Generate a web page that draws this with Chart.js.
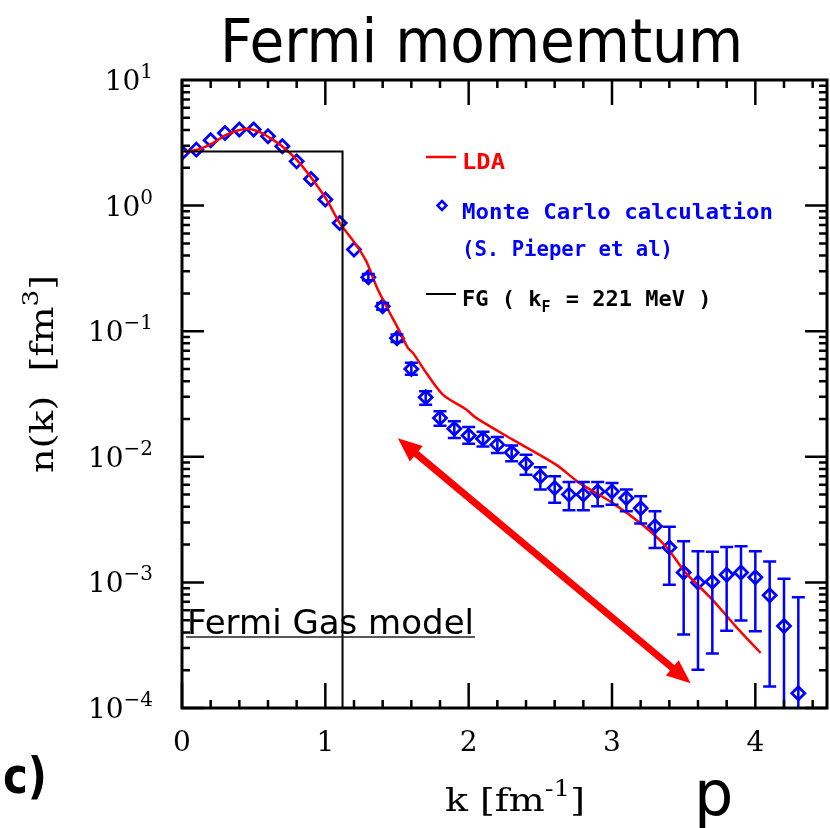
<!DOCTYPE html>
<html>
<head>
<meta charset="utf-8">
<script src="https://cdn.jsdelivr.net/npm/chart.js@4.4.1/dist/chart.umd.min.js"></script>
<style>
  body { margin: 0; background: #fff; }
</style>
</head>
<body>
<canvas id="fermiChart" width="830" height="828"></canvas>
<script>
// Monte Carlo points (k in fm^-1, n(k) in fm^3) with error bar ends
const mcK = [0, 0.1, 0.2, 0.3, 0.4, 0.5, 0.6, 0.7, 0.8, 0.9, 1.0, 1.1, 1.2, 1.3, 1.4, 1.5,
             1.6, 1.7, 1.8, 1.9, 2.0, 2.1, 2.2, 2.3, 2.4, 2.5, 2.6, 2.7, 2.8, 2.9, 3.0,
             3.1, 3.2, 3.3, 3.4, 3.5, 3.6, 3.7, 3.8, 3.9, 4.0, 4.1, 4.2, 4.3];
const mcN = [2.63, 2.79, 3.31, 3.79, 4.03, 4.03, 3.56, 2.97, 2.25, 1.63, 1.12, 0.728, 0.447, 0.269, 0.158, 0.088,
             0.050, 0.0298, 0.0204, 0.0167, 0.0148, 0.0139, 0.0125, 0.0108, 0.0088, 0.00698, 0.00564, 0.0050, 0.0050, 0.0053, 0.0053,
             0.0047, 0.0039, 0.0028, 0.0019, 0.0012, 0.0010, 0.00101, 0.00115, 0.00120, 0.00110, 0.00079, 0.00045, 0.000131];
const mcHi = [null, null, null, null, null, null, null, null, null, null, null, null, null, 0.285, 0.168, 0.094,
              0.056, 0.0332, 0.0230, 0.0192, 0.0173, 0.0158, 0.0144, 0.0123, 0.0104, 0.00826, 0.0070, 0.0063, 0.0063, 0.0063, 0.0062,
              0.00548, 0.00485, 0.00368, 0.00277, 0.00213, 0.00177, 0.00175, 0.00191, 0.00194, 0.00177, 0.00147, 0.00107, 0.00076];
const mcLo = [null, null, null, null, null, null, null, null, null, null, null, null, null, 0.254, 0.148, 0.082,
              0.045, 0.0260, 0.0177, 0.0141, 0.0127, 0.0121, 0.0107, 0.0092, 0.0072, 0.00548, 0.0043, 0.00375, 0.00375, 0.00404, 0.00416,
              0.00368, 0.00294, 0.00188, 0.00096, 0.000384, 0.000202, 0.000271, 0.000413, 0.000497, 0.000408, 0.000148, 0.00001, 0.00001];

// LDA curve
const ldaK = [0.02, 0.125, 0.218, 0.311, 0.439, 0.531, 0.613, 0.705, 0.799, 0.903, 1.008, 1.10, 1.205, 1.286, 1.356, 1.425,
              1.518, 1.576, 1.611, 1.704, 1.82, 1.983, 2.052, 2.307, 2.609, 2.772, 3.003, 3.212, 3.375, 3.515, 3.70, 3.863, 4.037];
const ldaN = [2.68, 2.83, 3.16, 3.67, 4.08, 3.9, 3.46, 2.93, 2.32, 1.66, 1.12, 0.728, 0.505, 0.36, 0.228, 0.158,
              0.10, 0.0736, 0.0672, 0.0466, 0.0313, 0.0238, 0.0204, 0.0137, 0.00867, 0.0062, 0.0043, 0.00288, 0.00194, 0.00119, 0.00073, 0.000447, 0.000274];

// Fermi gas step, k_F = 221 MeV = 1.12 fm^-1
const fgK = [0, 1.12, 1.12];
const fgN = [2.7, 2.7, 0.00001];

const xTicks = [0, 1, 2, 3, 4];
const yTicks = [10, 1, 0.1, 0.01, 0.001, 0.0001];
const yTickExp = ['1', '0', '\u22121', '\u22122', '\u22123', '\u22124'];

// double headed arrow (data coords)
const arrowK = [1.506, 3.549];
const arrowN = [0.01403, 0.0001574];

const BLUE = '#0000ff';
const RED = '#ff0000';
const SERIF = '"DejaVu Serif"';

function pts(xs, ys) {
    return xs.map((x, i) => ({ x: x, y: ys[i] }));
}

function fitText(ctx, text, x, y, font, width) {
    ctx.font = font;
    const w = ctx.measureText(text).width;
    ctx.save();
    ctx.translate(x, y);
    ctx.scale(width / w, 1);
    ctx.textAlign = 'left';
    ctx.fillText(text, 0, 0);
    ctx.restore();
}

// text made of pieces with their own size and vertical shift (for superscripts)
function richText(ctx, parts, width) {
    let total = 0;
    parts.forEach(p => {
        ctx.font = p.size + 'px ' + SERIF;
        p.w = ctx.measureText(p.t).width;
        total += p.w;
    });
    const sx = width ? width / total : 1;
    ctx.save();
    ctx.scale(sx, 1);
    ctx.textAlign = 'left';
    let cx = 0;
    parts.forEach(p => {
        ctx.font = p.size + 'px ' + SERIF;
        ctx.fillText(p.t, cx, p.dy || 0);
        cx += p.w;
    });
    ctx.restore();
    return total * sx;
}

const decor = {
    id: 'decor',
    afterDraw(chart) {
        const { ctx, chartArea: { left, right, top, bottom }, scales: { x, y } } = chart;
        ctx.save();

        // error bars
        ctx.save();
        ctx.beginPath();
        ctx.rect(left, top, right - left, bottom - top);
        ctx.clip();
        ctx.strokeStyle = BLUE;
        ctx.lineWidth = 2.5;
        mcK.forEach((k, i) => {
            if (mcHi[i] == null) return;
            const px = x.getPixelForValue(k);
            const yh = y.getPixelForValue(mcHi[i]);
            const yl = y.getPixelForValue(mcLo[i]);
            ctx.beginPath();
            ctx.moveTo(px, yh); ctx.lineTo(px, yl);
            ctx.moveTo(px - 6.5, yh); ctx.lineTo(px + 6.5, yh);
            ctx.moveTo(px - 6.5, yl); ctx.lineTo(px + 6.5, yl);
            ctx.stroke();
        });

        // red arrow
        const ax0 = x.getPixelForValue(arrowK[0]), ay0 = y.getPixelForValue(arrowN[0]);
        const ax1 = x.getPixelForValue(arrowK[1]), ay1 = y.getPixelForValue(arrowN[1]);
        const ang = Math.atan2(ay1 - ay0, ax1 - ax0);
        const hl = 24, hw = 10;
        const ux = Math.cos(ang), uy = Math.sin(ang);
        ctx.strokeStyle = RED;
        ctx.fillStyle = RED;
        ctx.lineWidth = 7;
        ctx.beginPath();
        ctx.moveTo(ax0 + ux * (hl - 2), ay0 + uy * (hl - 2));
        ctx.lineTo(ax1 - ux * (hl - 2), ay1 - uy * (hl - 2));
        ctx.stroke();
        [[ax0, ay0, 1], [ax1, ay1, -1]].forEach(([tx, ty, s]) => {
            const bx = tx + s * ux * hl, by = ty + s * uy * hl;
            ctx.beginPath();
            ctx.moveTo(tx, ty);
            ctx.lineTo(bx - uy * hw, by + ux * hw);
            ctx.lineTo(bx + uy * hw, by - ux * hw);
            ctx.closePath();
            ctx.fill();
        });
        ctx.restore();

        // frame and ticks on all four sides
        ctx.strokeStyle = '#000';
        ctx.lineWidth = 3;
        ctx.strokeRect(left, top, right - left, bottom - top);
        ctx.lineWidth = 2.5;
        ctx.beginPath();
        for (let v = 0; v <= 4.5001; v += 0.2) {
            const isMajor = Math.abs(v - Math.round(v)) < 1e-6;
            const len = isMajor ? 25 : 8;
            const px = x.getPixelForValue(v);
            ctx.moveTo(px, bottom); ctx.lineTo(px, bottom - len);
            ctx.moveTo(px, top); ctx.lineTo(px, top + len);
        }
        for (let e = -4; e < 1; e++) {
            for (let m = 1; m <= 9; m++) {
                const v = m * Math.pow(10, e);
                const len = m === 1 ? 22 : 8;
                const py = y.getPixelForValue(v);
                ctx.moveTo(left, py); ctx.lineTo(left + len, py);
                ctx.moveTo(right, py); ctx.lineTo(right - len, py);
            }
        }
        ctx.stroke();

        // y tick labels 10^n, right aligned at 153
        ctx.fillStyle = '#000';
        y.ticks.forEach(t => {
            const i = yTicks.indexOf(t.value);
            if (i < 0) return;
            const py = y.getPixelForValue(t.value);
            const parts = [{ t: '10', size: 28 }, { t: yTickExp[i], size: 20, dy: -12 }];
            let w = 0;
            parts.forEach(p => { ctx.font = p.size + 'px ' + SERIF; w += ctx.measureText(p.t).width; });
            ctx.save();
            ctx.translate(153 - w, py + 10);
            richText(ctx, parts);
            ctx.restore();
        });

        // axis titles
        ctx.save();
        ctx.translate(445, 811);
        richText(ctx, [{ t: 'k [fm', size: 32 }, { t: '-1', size: 22, dy: -15 }, { t: ']', size: 32 }], 140);
        ctx.restore();
        ctx.save();
        ctx.translate(53, 473);
        ctx.rotate(-Math.PI / 2);
        richText(ctx, [{ t: 'n(k)  [fm', size: 32 }, { t: '3', size: 22, dy: -15 }, { t: ']', size: 32 }], 198);
        ctx.restore();

        // legend
        ctx.lineWidth = 2.5;
        ctx.strokeStyle = RED;
        ctx.beginPath(); ctx.moveTo(426, 157); ctx.lineTo(456, 157); ctx.stroke();
        ctx.fillStyle = RED;
        fitText(ctx, 'LDA', 462, 169, 'bold 22px "DejaVu Sans Mono"', 43);

        ctx.strokeStyle = BLUE;
        ctx.lineWidth = 2.5;
        ctx.beginPath();
        ctx.moveTo(442, 201); ctx.lineTo(446.5, 205.5); ctx.lineTo(442, 210); ctx.lineTo(437.5, 205.5); ctx.closePath();
        ctx.stroke();
        ctx.fillStyle = BLUE;
        fitText(ctx, 'Monte Carlo calculation', 462, 219, 'bold 22px "DejaVu Sans Mono"', 311);
        fitText(ctx, '(S. Pieper et al)', 462, 256, 'bold 22px "DejaVu Sans Mono"', 211);

        ctx.strokeStyle = '#000';
        ctx.lineWidth = 2;
        ctx.beginPath(); ctx.moveTo(426, 294); ctx.lineTo(456, 294); ctx.stroke();
        ctx.fillStyle = '#000';
        ctx.font = 'bold 22px "DejaVu Sans Mono"';
        ctx.textAlign = 'left';
        ctx.fillText('FG ( k', 462, 306);
        let fx = 462 + ctx.measureText('FG ( k').width;
        ctx.font = 'bold 15px "DejaVu Sans Mono"';
        ctx.fillText('F', fx, 312);
        fx += ctx.measureText('F').width + 2;
        ctx.font = 'bold 22px "DejaVu Sans Mono"';
        ctx.fillText(' = 221 MeV )', fx, 306);

        // Fermi Gas model label
        ctx.fillStyle = '#000';
        fitText(ctx, 'Fermi Gas model', 187, 634, '34px "DejaVu Sans"', 287);
        ctx.strokeStyle = '#222';
        ctx.lineWidth = 1.5;
        ctx.beginPath(); ctx.moveTo(186, 637); ctx.lineTo(475, 637); ctx.stroke();

        // title and panel letters
        fitText(ctx, 'Fermi momemtum', 220, 62, '60px "DejaVu Sans"', 523);
        fitText(ctx, 'c)', 3, 793, 'bold 50px "DejaVu Sans"', 44);
        ctx.font = '62px "DejaVu Sans"';
        ctx.fillText('p', 694, 815);

        ctx.restore();
    }
};

new Chart(document.getElementById('fermiChart'), {
    type: 'scatter',
    data: {
        datasets: [
            {
                label: 'FG',
                type: 'line',
                data: pts(fgK, fgN),
                borderColor: '#000',
                borderWidth: 2,
                pointRadius: 0,
                fill: false,
                tension: 0
            },
            {
                label: 'LDA',
                type: 'line',
                data: pts(ldaK, ldaN),
                borderColor: RED,
                borderWidth: 2.5,
                pointRadius: 0,
                fill: false,
                tension: 0.3
            },
            {
                label: 'Monte Carlo calculation',
                data: pts(mcK, mcN),
                pointStyle: 'rectRot',
                pointRadius: 6.5,
                borderColor: BLUE,
                backgroundColor: 'rgba(0,0,0,0)',
                borderWidth: 2.8
            }
        ]
    },
    options: {
        responsive: false,
        animation: false,
        layout: { autoPadding: false, padding: { left: 0, right: 3, top: 80, bottom: 0 } },
        plugins: {
            legend: { display: false },
            tooltip: { enabled: false }
        },
        scales: {
            x: {
                type: 'linear',
                min: 0,
                max: 4.5,
                afterFit: s => { s.height = 120; },
                afterBuildTicks: s => { s.ticks = xTicks.map(v => ({ value: v })); },
                grid: { display: false, drawTicks: false },
                border: { display: false },
                ticks: {
                    color: '#000',
                    padding: 19,
                    maxRotation: 0,
                    autoSkip: false,
                    font: { family: SERIF, size: 28 }
                }
            },
            y: {
                type: 'logarithmic',
                min: 0.0001,
                max: 10,
                afterFit: s => { s.width = 182; },
                afterBuildTicks: s => { s.ticks = yTicks.map(v => ({ value: v })); },
                grid: { display: false, drawTicks: false },
                border: { display: false },
                ticks: { display: false }
            }
        }
    },
    plugins: [decor]
});
</script>
</body>
</html>
